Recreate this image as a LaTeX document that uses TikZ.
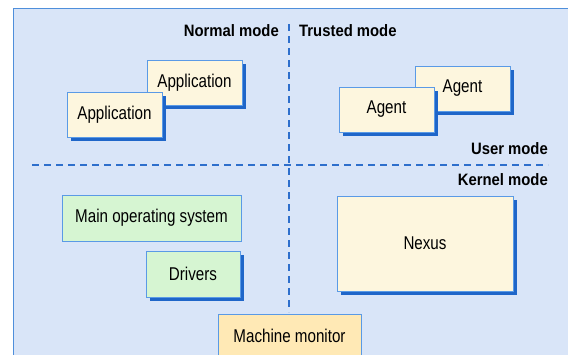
\documentclass[tikz,border=0pt]{standalone}
\usepackage{fontspec}
\setmainfont{Liberation Sans}[FakeStretch=0.82]
\newfontfamily\modefont{Liberation Sans}[FakeStretch=0.9]
\usepackage{tikz}
\usetikzlibrary{
    positioning,
    shadows
}
\definecolor{bgblue}{HTML}{D9E5F8}
\definecolor{frameblue}{HTML}{4F8FDB}
\definecolor{dashblue}{HTML}{2E6FCC}
\definecolor{edgeblue}{HTML}{5A9AE6}
\definecolor{shadeblue}{HTML}{1F66C9}
\definecolor{cream}{HTML}{FDF6DE}
\definecolor{mintgreen}{HTML}{D6F5D2}
\definecolor{monitor}{HTML}{FFE9B5}
\tikzset{
    every node/.style={
        font=\fontsize{18.5}{22}\selectfont
    },
    box/.style={
        draw=edgeblue,
        line width=1pt,
        inner sep=0pt,
        minimum width=95pt,
        minimum height=45pt
    },
    shadowed/.style={
        drop shadow={
            shadow xshift=4pt,
            shadow yshift=-4pt,
            opacity=1,
            fill=shadeblue
        }
    },
    modelabel/.style={
        font=\modefont\fontsize{16.5}{19}\selectfont\bfseries,
        inner sep=0pt
    },
    divider/.style={
        dashblue,
        line width=2pt,
        dash pattern=on 7pt off 5pt
    }
}

\begin{document}
\begin{tikzpicture}[
    x=1pt,
    y=-1pt
]

    \clip (0,0) rectangle (568,354);

    % Hintergrund
    \fill[white] (0,0) rectangle (568,354);
    \draw[frameblue, fill=bgblue, line width=1pt] (13,8) rectangle (580,370);

    % Trennlinien
    \coordinate (vtop) at (289,24);
    \coordinate (vbot) at (289,312);
    \coordinate (hleft) at (32,165);
    \coordinate (hright) at (548,165);
    \draw[divider] (vtop) -- (vbot);
    \draw[divider] (hleft) -- (hright);

    % Modi
    \node[modelabel, anchor=east]   (normal)  at (279,30.5)  {Normal mode};
    \node[modelabel, anchor=west]   (trusted) at (299,30.5)  {Trusted mode};
    \node[modelabel, anchor=east]   (user)    at (548,149) {User mode};
    \node[modelabel, anchor=east]   (kernel)  at (548,180) {Kernel mode};

    % Benutzermodus
    \node[box, shadowed, fill=cream] (app2) at (194.5,82.5)  {Application};
    \node[box, shadowed, fill=cream] (app1) at (114.5,114.5) {Application};

    \node[box, shadowed, fill=cream] (ag2)  at (462.5,88.5)  {Agent};
    \node[box, shadowed, fill=cream] (ag1)  at (386.5,109.5) {Agent};

    % Kernmodus
    \node[box, fill=mintgreen,
          minimum width=179pt, minimum height=46pt]
                                     (os)   at (151.5,218)   {Main operating system};
    \node[box, shadowed, fill=mintgreen,
          minimum width=94pt, minimum height=46pt]
                                     (drv)  at (193,274)     {Drivers};

    \node[box, shadowed, fill=cream,
          minimum width=176pt, minimum height=95pt]
                                     (nx)   at (425,243.5)   {Nexus};

    \node[box, fill=monitor,
          minimum width=143pt, minimum height=44pt]
                                     (mm)   at (289.5,336)   {Machine monitor};

\end{tikzpicture}
\end{document}
